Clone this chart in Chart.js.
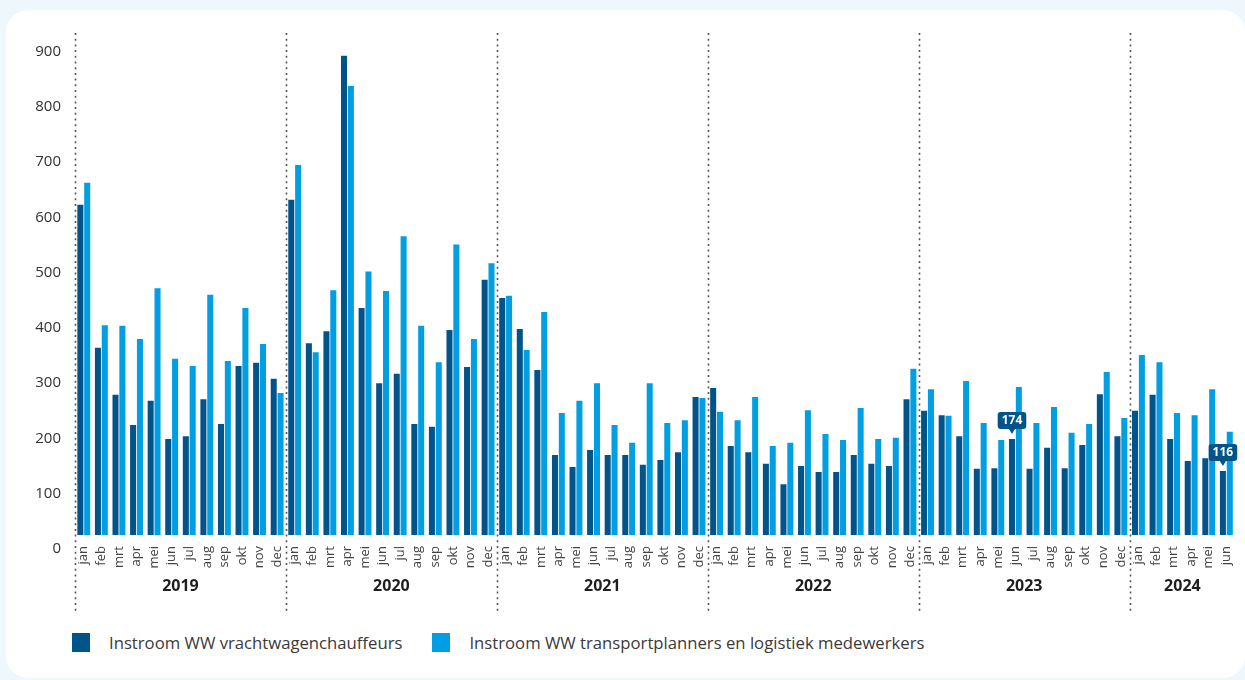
<!DOCTYPE html>
<html lang="nl">
<head>
<meta charset="utf-8">
<title>Instroom WW</title>
<script src="https://cdn.jsdelivr.net/npm/chart.js@4.4.1/dist/chart.umd.min.js"></script>
<style>
  html, body {
    margin: 0;
    padding: 0;
    width: 1245px;
    height: 680px;
    overflow: hidden;
    background: #eef7fc;
    font-family: "Open Sans", "Noto Sans", sans-serif;
  }
  .card {
    position: absolute;
    left: 6px;
    top: 10px;
    width: 1239px;
    height: 668px;
    background: #ffffff;
    border-radius: 22px;
  }
  .chart-box {
    position: absolute;
    left: 0;
    top: 0;
    width: 1245px;
    height: 620px;
  }
  .legend {
    position: absolute;
    left: 72px;
    top: 631px;
    display: flex;
    align-items: center;
    gap: 30px;
    font-size: 16.7px;
    color: #3a3a3a;
  }
  .legend-item {
    display: flex;
    align-items: center;
  }
  .legend-swatch {
    width: 18px;
    height: 19px;
    margin-right: 19px;
  }
</style>
</head>
<body>
<div class="card"></div>
<div class="chart-box"><canvas id="wwChart"></canvas></div>
<div class="legend" id="wwLegend"></div>

<script>
// ===============================
// Data
// ===============================
const MONTHS = ["jan", "feb", "mrt", "apr", "mei", "jun", "jul", "aug", "sep", "okt", "nov", "dec"];
const YEARS = ["2019", "2020", "2021", "2022", "2023", "2024"];
const MONTHS_PER_YEAR = [12, 12, 12, 12, 12, 6];

// Instroom WW vrachtwagenchauffeurs
const chauffeurs = [
  598, 339, 254, 199, 243, 174, 179, 246, 201, 306, 312, 283,
  607, 347, 369, 868, 411, 275, 292, 201, 196, 371, 304, 462,
  429, 373, 299, 145, 123, 154, 145, 145, 127, 136, 150, 250,
  266, 161, 150, 129, 92, 125, 114, 114, 145, 129, 125, 246,
  225, 217, 179, 120, 121, 174, 120, 158, 121, 163, 255, 179,
  225, 254, 174, 134, 139, 116
];

// Instroom WW transportplanners en logistiek medewerkers
const planners = [
  638, 380, 379, 355, 447, 319, 306, 435, 315, 411, 346, 257,
  670, 331, 443, 813, 477, 442, 541, 379, 313, 526, 355, 492,
  433, 335, 404, 221, 243, 275, 199, 167, 275, 203, 208, 248,
  223, 208, 250, 161, 167, 226, 183, 172, 230, 174, 176, 301,
  264, 216, 279, 203, 172, 268, 203, 232, 185, 201, 295, 212,
  326, 313, 221, 217, 264, 187
];

const yTicks = [0, 100, 200, 300, 400, 500, 600, 700, 800, 900];

// bars that get a value callout (index into the month list)
const calloutIndexes = [53, 65];

const SERIES_LABELS = [
  "Instroom WW vrachtwagenchauffeurs",
  "Instroom WW transportplanners en logistiek medewerkers"
];
const COLOR_DARK = "#01548a";
const COLOR_LIGHT = "#009ee2";

// month labels for the x axis
const monthLabels = [];
YEARS.forEach((year, i) => {
  for (let m = 0; m < MONTHS_PER_YEAR[i]; m++) monthLabels.push(MONTHS[m]);
});

// -------------------------------
// Year separators + year labels
// -------------------------------
const yearGroupsPlugin = {
  id: "yearGroups",
  afterDraw(chart) {
    const x = chart.scales.x;
    const area = chart.chartArea;
    const ctx = chart.ctx;
    const half = (x.getPixelForTick(1) - x.getPixelForTick(0)) / 2;

    ctx.save();
    let start = 0;
    YEARS.forEach((year, i) => {
      const end = start + MONTHS_PER_YEAR[i] - 1;
      const left = x.getPixelForTick(start) - half;
      const right = x.getPixelForTick(end) + half;

      // dotted separator in front of january
      ctx.beginPath();
      ctx.setLineDash([2, 3.7]);
      ctx.lineWidth = 1.6;
      ctx.strokeStyle = "#555555";
      ctx.moveTo(Math.round(left) + 0.5, area.top);
      ctx.lineTo(Math.round(left) + 0.5, area.bottom + 77);
      ctx.stroke();

      // year label
      ctx.setLineDash([]);
      ctx.fillStyle = "#1f1f1f";
      ctx.font = "bold 16px 'Open Sans', 'Noto Sans', sans-serif";
      ctx.textAlign = "center";
      ctx.textBaseline = "middle";
      ctx.fillText(year, (left + right) / 2, area.bottom + 51);

      start = end + 1;
    });
    ctx.restore();
  }
};

// -------------------------------
// Value callouts above selected bars
// -------------------------------
const calloutPlugin = {
  id: "callouts",
  afterDatasetsDraw(chart) {
    const ctx = chart.ctx;
    const meta = chart.getDatasetMeta(0);

    ctx.save();
    ctx.font = "bold 12px 'Open Sans', 'Noto Sans', sans-serif";
    calloutIndexes.forEach(idx => {
      const bar = meta.data[idx];
      const text = String(chart.data.datasets[0].data[idx]);
      const w = ctx.measureText(text).width + 8;
      const h = 17;
      const bottom = bar.y - 10;
      const left = bar.x - w / 2;

      ctx.fillStyle = COLOR_DARK;
      ctx.beginPath();
      ctx.roundRect(left, bottom - h, w, h, 3);
      ctx.fill();

      // small pointer
      ctx.beginPath();
      ctx.moveTo(bar.x - 3, bottom);
      ctx.lineTo(bar.x + 3, bottom);
      ctx.lineTo(bar.x, bottom + 5);
      ctx.closePath();
      ctx.fill();

      ctx.fillStyle = "#ffffff";
      ctx.textAlign = "center";
      ctx.textBaseline = "middle";
      ctx.fillText(text, bar.x, bottom - h / 2 + 0.5);
    });
    ctx.restore();
  }
};

// ===============================
// Chart
// ===============================
document.addEventListener("DOMContentLoaded", () => {
  const canvas = document.getElementById("wwChart");
  if (!canvas || !window.Chart) return;

  new Chart(canvas, {
    type: "bar",
    data: {
      labels: monthLabels,
      datasets: [
        {
          label: SERIES_LABELS[0],
          data: chauffeurs,
          backgroundColor: COLOR_DARK,
          yAxisID: "yBars",
          barPercentage: 0.88,
          categoryPercentage: 0.78
        },
        {
          label: SERIES_LABELS[1],
          data: planners,
          backgroundColor: COLOR_LIGHT,
          yAxisID: "yBars",
          barPercentage: 0.88,
          categoryPercentage: 0.78
        }
      ]
    },
    options: {
      responsive: true,
      maintainAspectRatio: false,
      animation: false,
      layout: {
        padding: { top: 33, right: 8, bottom: 11, left: 0 }
      },
      plugins: {
        legend: { display: false },
        tooltip: { enabled: false }
      },
      scales: {
        x: {
          grid: { display: false },
          border: { display: false },
          ticks: {
            autoSkip: false,
            maxRotation: 90,
            minRotation: 90,
            padding: 3,
            color: "#444444",
            font: { size: 13, family: "'Open Sans', 'Noto Sans', sans-serif" }
          },
          afterFit: scale => { scale.height = 74; }
        },
        // visible value axis (labels only); its 0 sits a bit below the bar base
        y: {
          position: "left",
          min: 25,
          max: 934,
          grid: { display: false, drawTicks: false },
          border: { display: false },
          ticks: {
            padding: 14,
            color: "#333333",
            font: { size: 15, family: "'Open Sans', 'Noto Sans', sans-serif" }
          },
          afterBuildTicks: scale => {
            scale.ticks = yTicks.map(v => ({ value: v }));
          },
          afterFit: scale => { scale.width = 75; }
        },
        // axis the bars are drawn on
        yBars: {
          display: false,
          min: 0,
          max: 909
        }
      }
    },
    plugins: [yearGroupsPlugin, calloutPlugin]
  });

  // HTML legend
  const legendEl = document.getElementById("wwLegend");
  [COLOR_DARK, COLOR_LIGHT].forEach((color, i) => {
    const item = document.createElement("div");
    item.className = "legend-item";
    item.innerHTML =
      `<span class="legend-swatch" style="background:${color}"></span>` +
      `<span>${SERIES_LABELS[i]}</span>`;
    legendEl.appendChild(item);
  });
});
</script>
</body>
</html>
